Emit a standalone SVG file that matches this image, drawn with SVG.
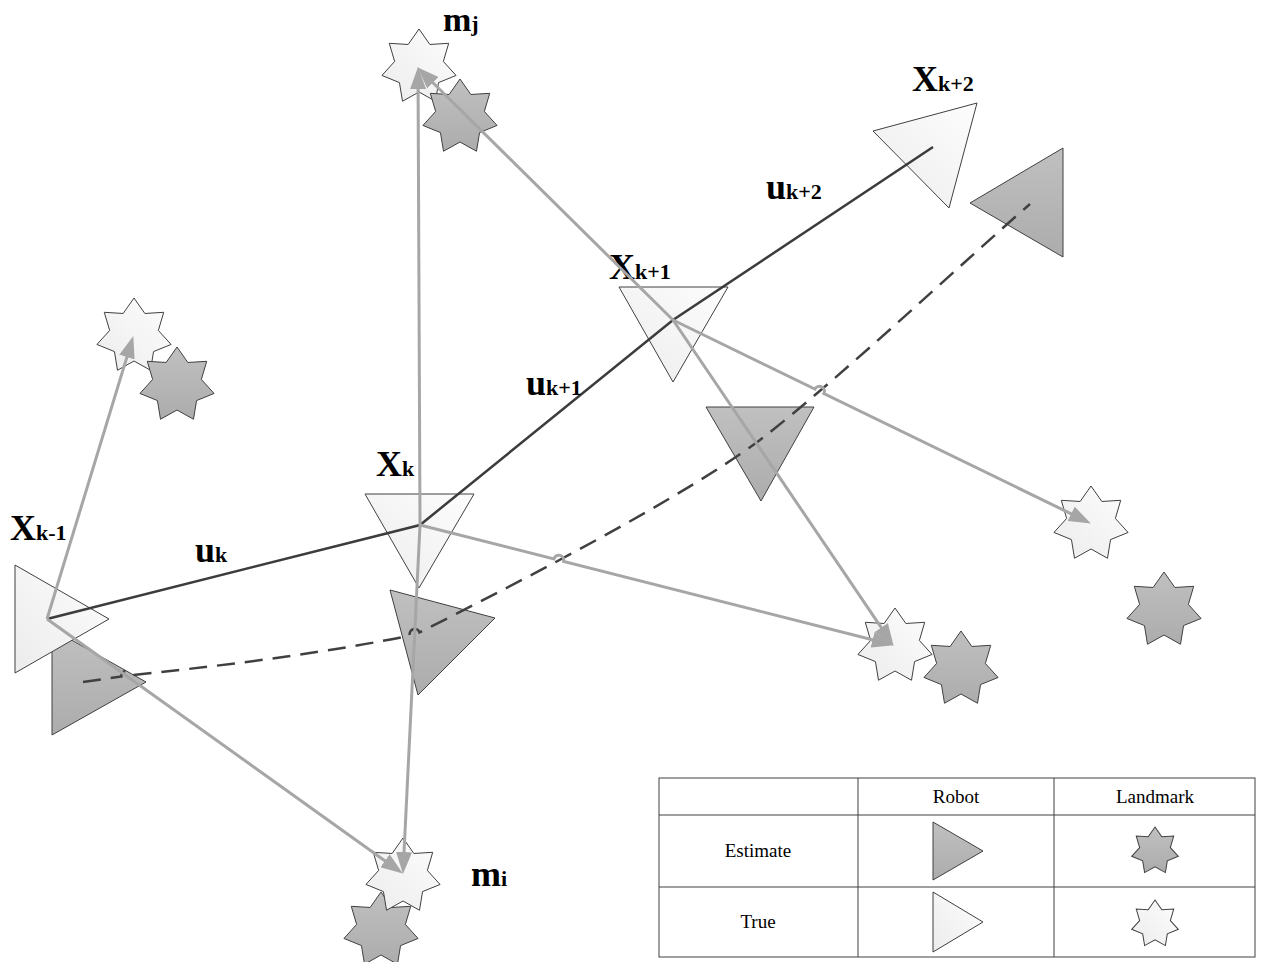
<svg xmlns="http://www.w3.org/2000/svg" xmlns:xlink="http://www.w3.org/1999/xlink" width="1264" height="962" viewBox="0 0 1264 962">
<style>
.lbl{font-family:"Liberation Serif","Times New Roman",serif;font-weight:bold;fill:#000}
.big{font-size:36px}
.sub{font-size:22px}
.leg{font-family:"Liberation Serif","Times New Roman",serif;font-size:19px;fill:#000}
.w{fill:url(#gw);stroke:#404040;stroke-width:1}
.g{fill:url(#gg);stroke:#404040;stroke-width:1}
.obs{fill:none;stroke:#a6a6a6;stroke-width:3;marker-end:url(#arr)}
.odo{fill:none;stroke:#3c3c3c;stroke-width:2.5}
.est{fill:none;stroke:#404040;stroke-width:2.5;stroke-dasharray:18 10}
.tbl{fill:none;stroke:#404040;stroke-width:1}
</style>
<defs>
<linearGradient id="gw" x1="0" y1="1" x2="1" y2="0">
<stop offset="0" stop-color="#ececec"/>
<stop offset="1" stop-color="#fdfdfd"/>
</linearGradient>
<linearGradient id="gg" x1="0" y1="0" x2="0" y2="1">
<stop offset="0" stop-color="#c0c0c0"/>
<stop offset="1" stop-color="#acacac"/>
</linearGradient>
<path id="star" d="M0,-38 L10.85,-22.52 L29.71,-23.69 L24.37,-5.56 L37.05,8.46 L19.55,15.59 L16.49,34.24 L0,25 L-16.49,34.24 L-19.55,15.59 L-37.05,8.46 L-24.37,-5.56 L-29.71,-23.69 L-10.85,-22.52 Z"/>
<marker id="arr" markerUnits="userSpaceOnUse" markerWidth="22" markerHeight="16" refX="11" refY="8" orient="auto" viewBox="0 0 22 16">
<path d="M0,0 L22,8 L0,16 Z" fill="#a6a6a6"/>
</marker>
</defs>
<rect width="1264" height="962" fill="#ffffff"/>

<g id="robot-k-1">
<polygon class="g" points="52,629 52,735 146,682"/>
<polygon class="w" points="15,565 15,673 109,619"/>
<text class="lbl" x="10" y="540"><tspan class="big">X</tspan><tspan class="sub">k-1</tspan></text>
</g>
<g id="robot-k">
<polygon class="w" points="365,494 474,494 419,588"/>
<polygon class="g" points="390,590 495,618 418,695"/>
<text class="lbl" x="376" y="476"><tspan class="big">X</tspan><tspan class="sub">k</tspan></text>
</g>
<g id="robot-k+1">
<polygon class="w" points="619,287 728,287 673,382"/>
<polygon class="g" points="706,407 814,407 761,501"/>
<text class="lbl" x="609" y="279"><tspan class="big">X</tspan><tspan class="sub">k+1</tspan></text>
</g>
<g id="robot-k+2">
<polygon class="w" points="873,131 977,103 949,208"/>
<polygon class="g" points="970,203 1063,148 1063,257"/>
<text class="lbl" x="912" y="91"><tspan class="big">X</tspan><tspan class="sub">k+2</tspan></text>
</g>

<g id="landmark-j">
<use xlink:href="#star" class="w" transform="translate(419,67)"/>
<use xlink:href="#star" class="g" transform="translate(460,117)"/>
<text class="lbl" x="443" y="31"><tspan class="big" style="font-size:34px">m</tspan><tspan class="sub">j</tspan></text>
</g>
<g id="landmark-left">
<use xlink:href="#star" class="w" transform="translate(134,336)"/>
<use xlink:href="#star" class="g" transform="translate(177,385)"/>
</g>
<g id="landmark-right">
<use xlink:href="#star" class="w" transform="translate(1091,524)"/>
<use xlink:href="#star" class="g" transform="translate(1164,610)"/>
</g>
<g id="landmark-mid">
<use xlink:href="#star" class="g" transform="translate(961,669)"/>
<use xlink:href="#star" class="w" transform="translate(895,646)"/>
</g>
<g id="landmark-i">
<use xlink:href="#star" class="g" transform="translate(381,930)"/>
<use xlink:href="#star" class="w" transform="translate(403,876)"/>
<text class="lbl" x="471" y="886"><tspan class="big">m</tspan><tspan class="sub">i</tspan></text>
</g>

<g id="connectors">
<path class="est" d="M83,682 L121.4,676.5 A5,5 0 0 1 131.3,675.1 Q300,658 409.9,635.6 A5,5 0 0 1 419.5,632.4 C500,592 680,500 760,440 C840,378 960,265 1030,204"/>
<polyline class="odo" points="47,619 420,525 673,320 933,147"/>
<path class="obs" d="M47,619 L130.1,346.6"/>
<path class="obs" d="M47,619 L393.9,867.2"/>
<path class="obs" d="M420,525 L418.04,78"/>
<path class="obs" d="M420,525 L403.5,863"/>
<path class="obs" d="M420,525 L553.95,558.97 A5,5 0 0 1 563.65,561.43 L883.3,642.5"/>
<path class="obs" d="M673,320 L425.1,75"/>
<path class="obs" d="M673,320 L887.4,636.7"/>
<path class="obs" d="M673,320 L814.9,389.1 A5,5 0 0 1 823.9,393.5 L1081,518.6"/>
</g>

<g id="labels-u">
<text class="lbl" x="195" y="562"><tspan class="big">u</tspan><tspan class="sub">k</tspan></text>
<text class="lbl" x="526" y="395"><tspan class="big">u</tspan><tspan class="sub">k+1</tspan></text>
<text class="lbl" x="766" y="199"><tspan class="big">u</tspan><tspan class="sub">k+2</tspan></text>
</g>

<g id="legend">
<rect class="tbl" x="659" y="778" width="596" height="179"/>
<line class="tbl" x1="858" y1="778" x2="858" y2="957"/>
<line class="tbl" x1="1054" y1="778" x2="1054" y2="957"/>
<line class="tbl" x1="659" y1="815" x2="1255" y2="815"/>
<line class="tbl" x1="659" y1="887" x2="1255" y2="887"/>
<text class="leg" x="956" y="803" text-anchor="middle">Robot</text>
<text class="leg" x="1155" y="803" text-anchor="middle">Landmark</text>
<text class="leg" x="758" y="857" text-anchor="middle">Estimate</text>
<text class="leg" x="758" y="928" text-anchor="middle">True</text>
<polygon class="g" points="933,822 933,880 983,851"/>
<polygon class="w" points="933,892 933,952 983,922"/>
<use xlink:href="#star" class="g" transform="translate(1155,851) scale(0.63)" style="stroke-width:1.6"/>
<use xlink:href="#star" class="w" transform="translate(1155,924) scale(0.63)" style="stroke-width:1.6"/>
</g>
</svg>
